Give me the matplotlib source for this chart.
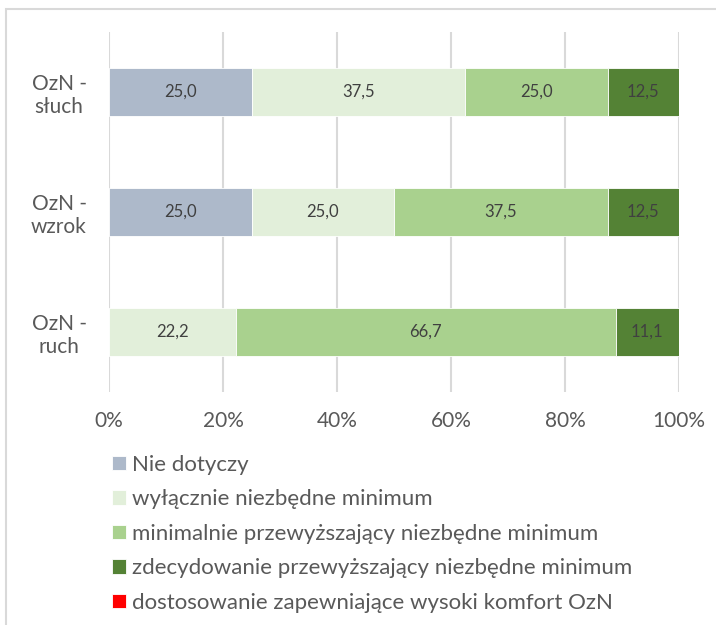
import numpy as np
import matplotlib
matplotlib.use('Agg')
import matplotlib.pyplot as plt
from matplotlib.patches import Rectangle

# dane
categories = ['OzN -\nsłuch', 'OzN -\nwzrok', 'OzN -\nruch']
nie_dotyczy = [25.0, 25.0, 0.0]
wylacznie = [37.5, 25.0, 22.2]
minimalnie = [25.0, 37.5, 66.7]
zdecydowanie = [12.5, 12.5, 11.1]
dostosowanie = [0.0, 0.0, 0.0]

series_names = ['Nie dotyczy',
                'wyłącznie niezbędne minimum',
                'minimalnie przewyższający niezbędne minimum',
                'zdecydowanie przewyższający niezbędne minimum',
                'dostosowanie zapewniające wysoki komfort OzN']
series_values = [nie_dotyczy, wylacznie, minimalnie, zdecydowanie, dostosowanie]
colors = ['#ADB9CA', '#E2EFDA', '#A9D18E', '#548235', '#FF0000']

x_ticks = [0, 20, 40, 60, 80, 100]
x_tick_labels = ['0%', '20%', '40%', '60%', '80%', '100%']

plt.rcParams['font.family'] = ['Lato', 'DejaVu Sans']
text_gray = '#595959'
label_gray = '#404040'
grid_gray = '#D9D9D9'

fig = plt.figure(figsize=(7.16, 6.25), dpi=100)
ax = fig.add_axes([109/716, 1 - 391.7/625, 570/716, 360/625])

y = np.arange(len(categories))[::-1]
left = np.zeros(len(categories))
handles = []
for name, vals, col in zip(series_names, series_values, colors):
    vals = np.array(vals)
    bars = ax.barh(y, vals, left=left, height=0.4, color=col,
                   edgecolor='white', linewidth=0.6, label=name)
    handles.append(bars)
    for yi, l, v in zip(y, left, vals):
        if v > 0:
            ax.text(l + v / 2, yi, f'{v:.1f}'.replace('.', ','),
                    ha='center', va='center', fontsize=12, color=label_gray)
    left = left + vals

ax.set_xlim(0, 100)
ax.set_ylim(-0.5, 2.5)
ax.set_xticks(x_ticks)
ax.set_xticklabels(x_tick_labels)
ax.set_yticks(y)
ax.set_yticklabels(categories)
for lab in ax.get_yticklabels():
    lab.set_horizontalalignment('center')
    lab.set_multialignment('center')
ax.tick_params(axis='y', length=0, pad=36, labelsize=15, labelcolor=text_gray)
ax.tick_params(axis='x', length=0, pad=14, labelsize=15, labelcolor=text_gray)

ax.grid(axis='x', color=grid_gray, linewidth=1.5)
ax.set_axisbelow(True)
for s in ax.spines.values():
    s.set_visible(False)

# legenda
fig.legend(handles=handles, labels=series_names, loc='upper left',
           bbox_to_anchor=(112/716, 1 - 455/625), frameon=False,
           fontsize=16, labelcolor=text_gray, borderpad=0, borderaxespad=0,
           handlelength=0.63, handleheight=0.63, handletextpad=0.25,
           labelspacing=0.65)

# ramka wykresu
fig.add_artist(Rectangle((6/716, -0.5), 2, 1 - 9/625 + 0.5,
                         transform=fig.transFigure, fill=False,
                         edgecolor=grid_gray, linewidth=1.5))

fig.savefig('out.png', dpi=100)
